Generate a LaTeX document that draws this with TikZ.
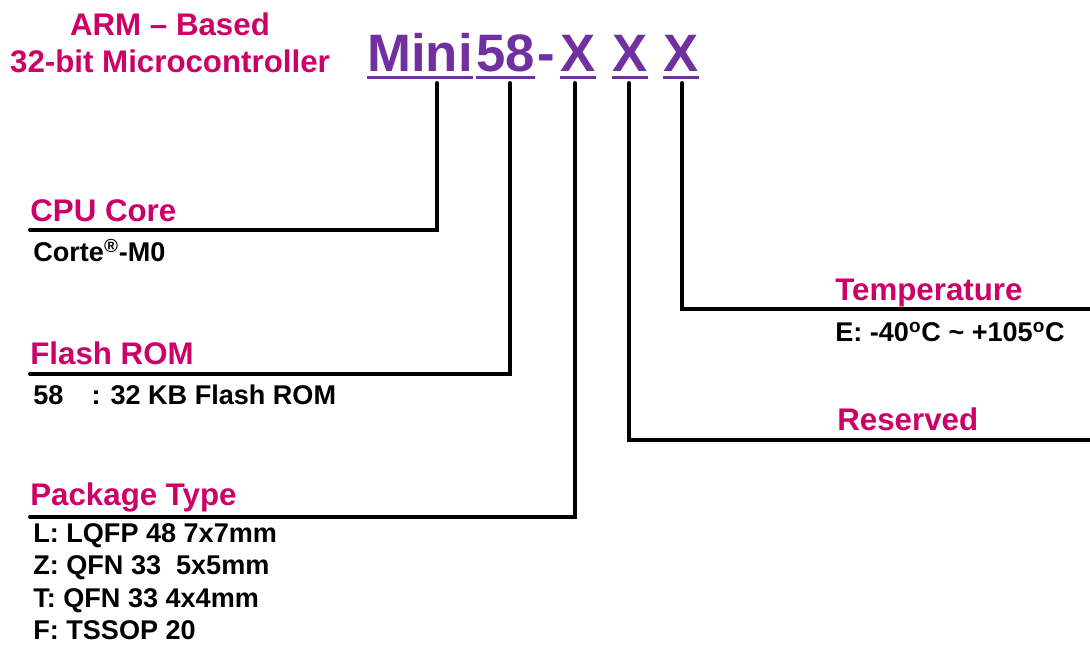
\documentclass[tikz,border=0pt]{standalone}
\usepackage{fontspec}
\setmainfont{Liberation Sans}
\definecolor{partpink}{HTML}{CC0066}
\definecolor{partpurple}{HTML}{7030A0}
\tikzset{
  head/.style={anchor=base west, inner sep=0pt, text=partpink, font=\fontsize{17.8}{21}\selectfont\bfseries},
  body/.style={anchor=base west, inner sep=0pt, font=\fontsize{15.4}{18}\selectfont\bfseries},
  code/.style={anchor=base west, inner sep=0pt, text=partpurple, font=\fontsize{30}{36}\selectfont\bfseries},
  lead/.style={line width=2.2pt, line cap=round},
  uline/.style={line width=1.8pt, draw=partpurple},
}
\begin{document}
\begin{tikzpicture}[x=0.02cm,y=-0.02cm]
  \useasboundingbox (0,0) rectangle (1090,645);

  % title
  \node[head, anchor=base] (arm) at (170,36) {ARM – Based};
  \node[head, anchor=base] (mcu) at (170,73) {32-bit Microcontroller};

  % part number
  \node[code] (mini) at (367,72) {Mini};
  \node[code] (flash) at (476,72) {58};
  \node[code] (dash) at (537,72) {-};
  \node[code] (pkg) at (560,72) {X};
  \node[code] (resv) at (612,72) {X};
  \node[code] (temp) at (663,72) {X};
  \foreach \n in {mini,flash,pkg,resv,temp}
    \draw[uline] ([yshift=-3pt]\n.base west) -- ([yshift=-3pt]\n.base east);

  \coordinate (miniT) at (437,83);
  \coordinate (flashT) at (510,83);
  \coordinate (pkgT) at (575,83);
  \coordinate (resvT) at (629,83);
  \coordinate (tempT) at (682,83);

  \coordinate (miniE) at (30,230);
  \coordinate (flashE) at (30,374);
  \coordinate (pkgE) at (30,517);
  \coordinate (resvE) at (1090,440);
  \coordinate (tempE) at (1090,309);

  % left side
  \node[head] (cpuH) at (30,222) {CPU Core};
  \node[body] (cpuB) at (33,262) {Corte\textsuperscript{®}-M0};

  \node[head] (romH) at (30,365) {Flash ROM};
  \node[body] (romB) at (33,405) {58\hspace{16pt}: 32 KB Flash ROM};

  \node[head] (pkgH) at (30,506) {Package Type};
  \foreach \t [count=\i] in {L: LQFP 48 7x7mm, Z: QFN 33~ 5x5mm, T: QFN 33 4x4mm, F: TSSOP 20}
    \node[body] (pkgB\i) at (33,510+32.5*\i) {\t};

  % right side
  \node[head] (tempH) at (835,301) {Temperature};
  \node[body] (tempB) at (835,342) {E: -40\textsuperscript{o}C \textasciitilde{} +105\textsuperscript{o}C};
  \node[head] (resvH) at (837,431) {Reserved};

  \draw[lead] (miniT) |- (miniE);
  \draw[lead] (flashT) |- (flashE);
  \draw[lead] (pkgT) |- (pkgE);
  \draw[lead] (resvT) |- (resvE);
  \draw[lead] (tempT) |- (tempE);

\end{tikzpicture}
\end{document}
